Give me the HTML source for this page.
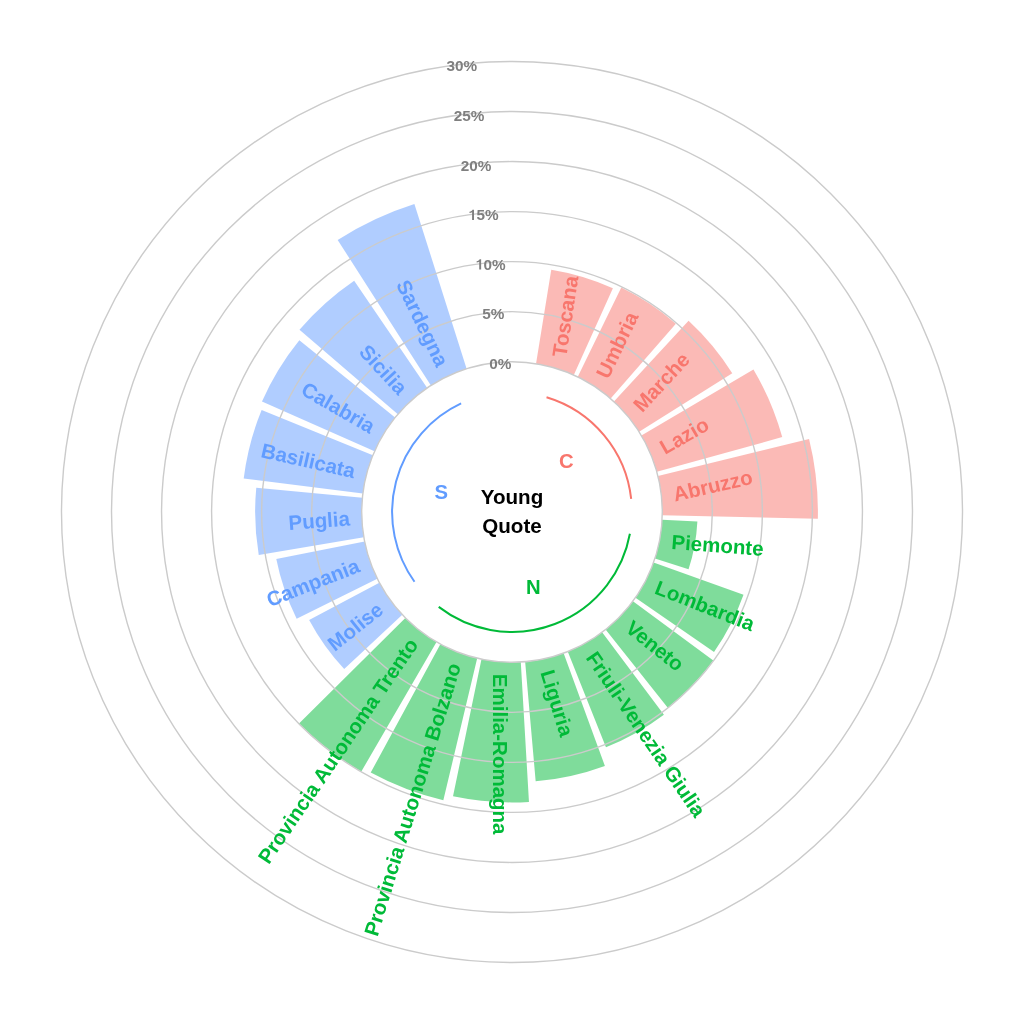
<!DOCTYPE html><html><head><meta charset="utf-8"><style>html,body{margin:0;padding:0;background:#fff;}svg{display:block;will-change:transform;}text{font-family:"Liberation Sans",sans-serif;font-weight:bold;}</style></head><body>
<svg width="1024" height="1024" viewBox="0 0 1024 1024">
<rect width="1024" height="1024" fill="#fff"/>
<path d="M536.05,363.64 L551.27,269.80 A245.37,245.37 0 0 1 612.89,288.34 L573.80,374.99 A150.30,150.30 0 0 0 536.05,363.64 Z" fill="#F8766D" fill-opacity="0.5"/>
<path d="M577.78,376.86 L621.27,287.51 A249.67,249.67 0 0 1 675.87,323.64 L610.65,398.61 A150.30,150.30 0 0 0 577.78,376.86 Z" fill="#F8766D" fill-opacity="0.5"/>
<path d="M613.92,401.54 L688.57,320.64 A260.38,260.38 0 0 1 732.25,373.13 L639.14,431.84 A150.30,150.30 0 0 0 613.92,401.54 Z" fill="#F8766D" fill-opacity="0.5"/>
<path d="M641.43,435.59 L753.45,369.45 A280.39,280.39 0 0 1 782.21,437.12 L656.84,471.86 A150.30,150.30 0 0 0 641.43,435.59 Z" fill="#F8766D" fill-opacity="0.5"/>
<path d="M657.95,476.11 L809.06,438.96 A305.91,305.91 0 0 1 817.84,518.70 L662.26,515.29 A150.30,150.30 0 0 0 657.95,476.11 Z" fill="#F8766D" fill-opacity="0.5"/>
<path d="M662.10,519.68 L697.38,521.49 A185.62,185.62 0 0 1 688.54,569.36 L654.94,558.45 A150.30,150.30 0 0 0 662.10,519.68 Z" fill="#00BA38" fill-opacity="0.5"/>
<path d="M653.53,562.60 L743.51,594.78 A245.87,245.87 0 0 1 714.03,652.12 L635.50,597.66 A150.30,150.30 0 0 0 653.53,562.60 Z" fill="#00BA38" fill-opacity="0.5"/>
<path d="M632.95,601.23 L713.31,660.52 A250.17,250.17 0 0 1 667.77,707.75 L605.59,629.61 A150.30,150.30 0 0 0 632.95,601.23 Z" fill="#00BA38" fill-opacity="0.5"/>
<path d="M602.11,632.29 L663.91,714.78 A253.37,253.37 0 0 1 605.96,747.31 L567.74,651.58 A150.30,150.30 0 0 0 602.11,632.29 Z" fill="#00BA38" fill-opacity="0.5"/>
<path d="M563.63,653.15 L604.89,765.93 A270.38,270.38 0 0 1 535.67,781.35 L525.16,661.72 A150.30,150.30 0 0 0 563.63,653.15 Z" fill="#00BA38" fill-opacity="0.5"/>
<path d="M520.78,662.04 L528.96,801.90 A290.40,290.40 0 0 1 453.01,796.34 L481.47,659.17 A150.30,150.30 0 0 0 520.78,662.04 Z" fill="#00BA38" fill-opacity="0.5"/>
<path d="M477.18,658.21 L443.33,800.34 A296.40,296.40 0 0 1 370.73,772.57 L440.36,644.13 A150.30,150.30 0 0 0 477.18,658.21 Z" fill="#00BA38" fill-opacity="0.5"/>
<path d="M436.53,641.98 L361.32,771.53 A300.10,300.10 0 0 1 299.02,723.43 L405.33,617.89 A150.30,150.30 0 0 0 436.53,641.98 Z" fill="#00BA38" fill-opacity="0.5"/>
<path d="M402.29,614.73 L344.21,669.10 A229.86,229.86 0 0 1 309.14,620.08 L379.35,582.67 A150.30,150.30 0 0 0 402.29,614.73 Z" fill="#619CFF" fill-opacity="0.5"/>
<path d="M377.34,578.76 L296.65,618.77 A240.36,240.36 0 0 1 276.30,559.11 L364.61,541.46 A150.30,150.30 0 0 0 377.34,578.76 Z" fill="#619CFF" fill-opacity="0.5"/>
<path d="M363.82,537.14 L258.74,554.96 A256.87,256.87 0 0 1 256.28,487.64 L362.38,497.75 A150.30,150.30 0 0 0 363.82,537.14 Z" fill="#619CFF" fill-opacity="0.5"/>
<path d="M362.86,493.38 L243.70,478.50 A270.38,270.38 0 0 1 261.63,409.90 L372.83,455.24 A150.30,150.30 0 0 0 362.86,493.38 Z" fill="#619CFF" fill-opacity="0.5"/>
<path d="M374.55,451.20 L261.98,401.41 A273.39,273.39 0 0 1 299.33,340.21 L395.08,417.56 A150.30,150.30 0 0 0 374.55,451.20 Z" fill="#619CFF" fill-opacity="0.5"/>
<path d="M397.89,414.18 L299.50,329.84 A279.89,279.89 0 0 1 354.17,280.85 L427.25,387.88 A150.30,150.30 0 0 0 397.89,414.18 Z" fill="#619CFF" fill-opacity="0.5"/>
<path d="M430.91,385.45 L337.67,239.94 A323.12,323.12 0 0 1 414.40,203.97 L466.60,368.72 A150.30,150.30 0 0 0 430.91,385.45 Z" fill="#619CFF" fill-opacity="0.5"/>
<circle cx="512.0" cy="512.0" r="150.30" fill="none" stroke="#cbcbcb" stroke-width="1.4"/>
<circle cx="512.0" cy="512.0" r="200.34" fill="none" stroke="#cbcbcb" stroke-width="1.4"/>
<circle cx="512.0" cy="512.0" r="250.37" fill="none" stroke="#cbcbcb" stroke-width="1.4"/>
<circle cx="512.0" cy="512.0" r="300.40" fill="none" stroke="#cbcbcb" stroke-width="1.4"/>
<circle cx="512.0" cy="512.0" r="350.44" fill="none" stroke="#cbcbcb" stroke-width="1.4"/>
<circle cx="512.0" cy="512.0" r="400.48" fill="none" stroke="#cbcbcb" stroke-width="1.4"/>
<circle cx="512.0" cy="512.0" r="450.51" fill="none" stroke="#cbcbcb" stroke-width="1.4"/>
<text x="489.36" y="368.60" font-size="15.3" fill="#7f7f7f">0%</text>
<text x="482.23" y="319.08" font-size="15.3" fill="#7f7f7f">5%</text>
<path transform="translate(475.09 269.56) scale(15.3)" d="M0.27,0 L0.395,0 L0.395,-0.675 L0.295,-0.675 C0.27,-0.605 0.2,-0.56 0.10,-0.55 L0.10,-0.465 C0.17,-0.465 0.235,-0.48 0.27,-0.51 Z" fill="#7f7f7f"/>
<text x="483.60" y="269.56" font-size="15.3" fill="#7f7f7f">0%</text>
<path transform="translate(467.95 220.04) scale(15.3)" d="M0.27,0 L0.395,0 L0.395,-0.675 L0.295,-0.675 C0.27,-0.605 0.2,-0.56 0.10,-0.55 L0.10,-0.465 C0.17,-0.465 0.235,-0.48 0.27,-0.51 Z" fill="#7f7f7f"/>
<text x="476.46" y="220.04" font-size="15.3" fill="#7f7f7f">5%</text>
<text x="460.82" y="170.52" font-size="15.3" fill="#7f7f7f">20%</text>
<text x="453.68" y="121.00" font-size="15.3" fill="#7f7f7f">25%</text>
<text x="446.54" y="71.48" font-size="15.3" fill="#7f7f7f">30%</text>
<path d="M546.54,397.18 A119.9,119.9 0 0 1 631.18,498.89" fill="none" stroke="#F8766D" stroke-width="2"/>
<path d="M629.91,533.78 A119.9,119.9 0 0 1 438.72,606.90" fill="none" stroke="#00BA38" stroke-width="2"/>
<path d="M414.49,581.76 A119.9,119.9 0 0 1 461.11,403.44" fill="none" stroke="#619CFF" stroke-width="2"/>
<text x="441.2" y="498.5" font-size="20.3" fill="#619CFF" text-anchor="middle">S</text>
<text x="566.25" y="467.9" font-size="20.3" fill="#F8766D" text-anchor="middle">C</text>
<text x="533.3" y="594.2" font-size="20.3" fill="#00BA38" text-anchor="middle">N</text>
<text x="512.0" y="504.4" font-size="20.6" fill="#000" text-anchor="middle">Young</text>
<text x="512.0" y="532.9" font-size="20.6" fill="#000" text-anchor="middle">Quote</text>
<text x="558.76" y="356.58" font-size="20.5" fill="#F8766D" text-anchor="start" dominant-baseline="central" transform="rotate(-81.429 558.76 356.58)">Toscana</text>
<text x="601.55" y="376.64" font-size="20.5" fill="#F8766D" text-anchor="start" dominant-baseline="central" transform="rotate(-64.286 601.55 376.64)">Umbria</text>
<text x="636.75" y="408.18" font-size="20.5" fill="#F8766D" text-anchor="start" dominant-baseline="central" transform="rotate(-47.143 636.75 408.18)">Marche</text>
<text x="661.37" y="448.52" font-size="20.5" fill="#F8766D" text-anchor="start" dominant-baseline="central" transform="rotate(-30.000 661.37 448.52)">Lazio</text>
<text x="673.33" y="494.25" font-size="20.5" fill="#F8766D" text-anchor="start" dominant-baseline="central" transform="rotate(-12.857 673.33 494.25)">Abruzzo</text>
<text x="671.60" y="541.48" font-size="20.5" fill="#00BA38" text-anchor="start" dominant-baseline="central" transform="rotate(4.286 671.60 541.48)">Piemonte</text>
<text x="656.34" y="586.21" font-size="20.5" fill="#00BA38" text-anchor="start" dominant-baseline="central" transform="rotate(21.429 656.34 586.21)">Lombardia</text>
<text x="628.84" y="624.65" font-size="20.5" fill="#00BA38" text-anchor="start" dominant-baseline="central" transform="rotate(38.571 628.84 624.65)">Veneto</text>
<text x="591.43" y="653.53" font-size="20.5" fill="#00BA38" text-anchor="start" dominant-baseline="central" transform="rotate(55.714 591.43 653.53)">Friuli-Venezia Giulia</text>
<text x="547.29" y="670.42" font-size="20.5" fill="#00BA38" text-anchor="start" dominant-baseline="central" transform="rotate(72.857 547.29 670.42)">Liguria</text>
<text x="500.15" y="673.87" font-size="20.5" fill="#00BA38" text-anchor="start" dominant-baseline="central" transform="rotate(90.000 500.15 673.87)">Emilia-Romagna</text>
<text x="454.02" y="663.59" font-size="20.5" fill="#00BA38" text-anchor="end" dominant-baseline="central" transform="rotate(-72.857 454.02 663.59)">Provincia Autonoma Bolzano</text>
<text x="412.81" y="640.46" font-size="20.5" fill="#00BA38" text-anchor="end" dominant-baseline="central" transform="rotate(-55.714 412.81 640.46)">Provincia Autonoma Trento</text>
<text x="380.00" y="606.44" font-size="20.5" fill="#619CFF" text-anchor="end" dominant-baseline="central" transform="rotate(-38.571 380.00 606.44)">Molise</text>
<text x="358.39" y="564.40" font-size="20.5" fill="#619CFF" text-anchor="end" dominant-baseline="central" transform="rotate(-21.429 358.39 564.40)">Campania</text>
<text x="349.81" y="517.93" font-size="20.5" fill="#619CFF" text-anchor="end" dominant-baseline="central" transform="rotate(-4.286 349.81 517.93)">Puglia</text>
<text x="354.98" y="470.95" font-size="20.5" fill="#619CFF" text-anchor="end" dominant-baseline="central" transform="rotate(12.857 354.98 470.95)">Basilicata</text>
<text x="373.46" y="427.45" font-size="20.5" fill="#619CFF" text-anchor="end" dominant-baseline="central" transform="rotate(30.000 373.46 427.45)">Calabria</text>
<text x="403.69" y="391.12" font-size="20.5" fill="#619CFF" text-anchor="end" dominant-baseline="central" transform="rotate(47.143 403.69 391.12)">Sicilia</text>
<text x="443.11" y="365.05" font-size="20.5" fill="#619CFF" text-anchor="end" dominant-baseline="central" transform="rotate(64.286 443.11 365.05)">Sardegna</text>
</svg></body></html>
